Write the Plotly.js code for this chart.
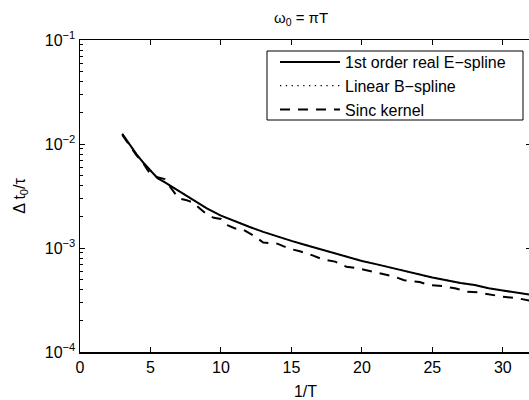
<!DOCTYPE html>
<html>
<head>
<meta charset="utf-8">
<script src="https://cdn.plot.ly/plotly-3.0.1.min.js"></script>
<style>
html,body{margin:0;padding:0;overflow:hidden;background:#fff;}
#chart{width:540px;height:400px;}
</style>
</head>
<body>
<div id="chart"></div>
<script>
// 1st order real E-spline (solid)
const xE = [3, 3.5, 4, 4.5, 5, 5.5, 6, 6.5, 7, 8, 9, 10, 11, 12, 13, 14, 15, 16, 17, 18, 19, 20, 21, 22, 23, 24, 25, 26, 27, 28, 29, 30, 31, 32];
const yE = [0.0125, 0.0100, 0.0080, 0.0066, 0.0055, 0.0047, 0.0043, 0.0039, 0.0035, 0.0029, 0.0024, 0.00205, 0.00180, 0.00160, 0.00143, 0.00129, 0.00117, 0.00107, 0.00098, 0.00090, 0.00082, 0.00075, 0.00070, 0.00065, 0.00060, 0.00056, 0.00052, 0.00049, 0.00046, 0.00044, 0.00041, 0.00039, 0.00037, 0.000355];
// Linear B-spline (dotted, lies under the solid curve)
const xB = [3, 3.5, 4, 4.5, 5, 5.5, 6, 6.5, 7, 8, 9, 10, 11, 12, 13, 14, 15, 16, 17, 18, 19, 20, 21, 22, 23, 24, 25, 26, 27, 28, 29, 30, 31, 32];
const yB = [0.0125, 0.0100, 0.0080, 0.0066, 0.0055, 0.0047, 0.0043, 0.0039, 0.0035, 0.0029, 0.0024, 0.00205, 0.00180, 0.00160, 0.00143, 0.00129, 0.00117, 0.00107, 0.00098, 0.00090, 0.00082, 0.00075, 0.00070, 0.00065, 0.00060, 0.00056, 0.00052, 0.00049, 0.00046, 0.00044, 0.00041, 0.00039, 0.00037, 0.000355];
// Sinc kernel (dashed)
const xS = [3.0, 3.5, 4.0, 4.4, 5.0, 5.5, 6.0, 6.5, 7.0, 7.5, 8.0, 8.5, 9.0, 9.5, 10.0, 10.5, 11.0, 11.5, 12.3, 13.0, 14.0, 14.8, 15.6, 16.5, 17.2, 18.1, 18.9, 19.7, 20.6, 21.4, 22.3, 23.0, 24.1, 24.8, 25.7, 26.6, 27.5, 28.2, 29.3, 30.0, 31.0, 31.8, 32.0];
const yS = [0.0122, 0.0098, 0.0078, 0.0068, 0.0051, 0.0048, 0.0046, 0.0037, 0.0030, 0.0029, 0.00275, 0.0024, 0.0021, 0.00195, 0.0019, 0.00165, 0.00154, 0.00152, 0.00132, 0.00113, 0.00110, 0.00099, 0.00093, 0.00085, 0.00078, 0.00074, 0.00066, 0.00064, 0.00060, 0.00056, 0.00053, 0.00049, 0.00047, 0.00044, 0.00043, 0.00041, 0.00038, 0.000375, 0.00035, 0.00034, 0.00033, 0.000315, 0.00031];

const names = ["1st order real E\u2212spline", "Linear B\u2212spline", "Sinc kernel"];
const yTickVals = [1e-4, 1e-3, 1e-2, 1e-1];
const yTickText = ["10<sup>\u22124</sup>", "10<sup>\u22123</sup>", "10<sup>\u22122</sup>", "10<sup>\u22121</sup>"];
const xTickVals = [0, 5, 10, 15, 20, 25, 30];
const minorMultipliers = [2, 3, 4, 5, 6, 7, 8, 9];
const decades = [1e-4, 1e-3, 1e-2];
const yMinorVals = [];
decades.forEach(d => minorMultipliers.forEach(m => yMinorVals.push(m * d)));

const FONT = "Liberation Sans, Arial, Helvetica, sans-serif";
const font = {family: FONT, size: 16, color: "#000"};

const W = 540, H = 400, ML = 80, MR = 9, MT = 40, MB = 48;
const PW = W - ML - MR, PH = H - MT - MB;
const px2x = p => (p - ML) / PW;
const px2y = p => (H - MB - p) / PH;

const traces = [
  {x: xE, y: yE, name: names[0], mode: "lines", line: {color: "#000", width: 2, dash: "solid"}},
  {x: xB, y: yB, name: names[1], mode: "lines", line: {color: "#000", width: 1.3, dash: "1.3px,4.5px"}},
  {x: xS, y: yS, name: names[2], mode: "lines", line: {color: "#000", width: 2, dash: "10px,8px"}},
  {x: [null], y: [null], yaxis: "y2", showlegend: false, hoverinfo: "skip", mode: "lines"}
];

const layout = {
  width: W, height: H,
  margin: {l: ML, r: MR, t: MT, b: MB},
  paper_bgcolor: "#fff", plot_bgcolor: "rgba(0,0,0,0)",
  font: font,
  showlegend: true,
  title: {text: "\u03c9<sub>0</sub> = \u03c0T", x: 301 / W, xanchor: "center", xref: "container", y: 1 - 18 / H, yanchor: "middle", font: {family: FONT, size: 15, color: "#000"}},
  xaxis: {
    range: [0, 32], tickvals: xTickVals, ticks: "inside", ticklen: 5, tickwidth: 1, tickcolor: "#000",
    showline: true, linecolor: "#000", linewidth: 1.5, mirror: "ticks", showgrid: false, zeroline: false,
    title: {text: "1/T", font: font, standoff: 12}, tickfont: font
  },
  yaxis: {
    type: "log", range: [-4, -1], tickvals: yTickVals, ticktext: yTickText,
    ticks: "inside", ticklen: 5, tickwidth: 1, tickcolor: "#000",
    showline: true, linecolor: "#000", linewidth: 1.5, mirror: "ticks", showgrid: false, zeroline: false,
    title: {text: "\u0394 t<sub>0</sub>/\u03c4", font: font, standoff: 15}, tickfont: font
  },
  yaxis2: {
    type: "log", range: [-4, -1], overlaying: "y", side: "left", tickvals: yMinorVals,
    ticks: "inside", ticklen: 3, tickwidth: 1, tickcolor: "#000", showticklabels: false,
    showline: false, showgrid: false, zeroline: false
  },
  legend: {
    x: px2x(275), y: px2y(45), xanchor: "left", yanchor: "top",
    bgcolor: "rgba(0,0,0,0)", borderwidth: 0,
    font: font, tracegroupgap: 0, itemwidth: 60
  },
  shapes: [
    {type: "rect", xref: "paper", yref: "paper",
     x0: px2x(267), x1: px2x(523), y0: px2y(120), y1: px2y(51),
     line: {color: "#000", width: 1}, fillcolor: "#fff", layer: "below"}
  ]
};

Plotly.newPlot("chart", traces, layout, {displayModeBar: false, staticPlot: true});
</script>
</body>
</html>
